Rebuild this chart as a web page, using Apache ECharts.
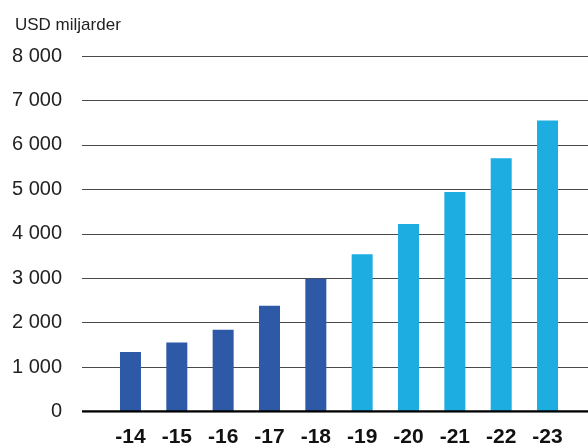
<!DOCTYPE html>
<html>
<head>
<meta charset="utf-8">
<script src="https://cdn.jsdelivr.net/npm/echarts@6/dist/echarts.min.js"></script>
<style>html,body{margin:0;padding:0;background:#fff;}#c{width:588px;height:445px;}</style>
</head>
<body>
<div id="c"></div>
<script>
const categories = ['-14','-15','-16','-17','-18','-19','-20','-21','-22','-23'];
const actualValues = [1340, 1550, 1840, 2380, 2990, null, null, null, null, null];
const forecastValues = [null, null, null, null, null, 3540, 4220, 4940, 5700, 6550];
const yTicks = [0, 1000, 2000, 3000, 4000, 5000, 6000, 7000, 8000];
const unitLabel = 'USD miljarder';

const font = '"Liberation Sans", Arial, Helvetica, sans-serif';
const chart = echarts.init(document.getElementById('c'), null, {renderer: 'canvas'});
const fmt = v => String(v).replace(/\B(?=(\d{3})+(?!\d))/g, ' ');

chart.setOption({
  animation: false,
  backgroundColor: '#fff',
  title: {
    text: unitLabel, left: 10, top: 12,
    textStyle: {fontFamily: font, fontSize: 17, fontWeight: 'normal', color: '#222'}
  },
  grid: [
    {left: 82, right: 0, top: 56, bottom: 33.5, containLabel: false, outerBoundsMode: 'none'},
    {left: 107.3, right: 17.3, top: 56, bottom: 33.5, containLabel: false, outerBoundsMode: 'none'}
  ],
  xAxis: [
    {gridIndex: 0, type: 'value', min: 0, max: 1, show: false},
    {
      gridIndex: 1, type: 'category', data: categories,
      axisLine: {show: false}, axisTick: {show: false},
      axisLabel: {margin: 15, fontFamily: font, fontSize: 21, fontWeight: 'bold', color: '#111'}
    }
  ],
  yAxis: [
    {
      gridIndex: 0, type: 'value', min: yTicks[0], max: yTicks[yTicks.length - 1], interval: 1000,
      axisLine: {show: false}, axisTick: {show: false},
      axisLabel: {margin: 20, fontFamily: font, fontSize: 20, color: '#222', formatter: fmt},
      splitLine: {lineStyle: {color: '#4a4a4a', width: 1}}
    },
    {gridIndex: 1, type: 'value', min: yTicks[0], max: yTicks[yTicks.length - 1], show: false}
  ],
  series: [
    {
      type: 'line', xAxisIndex: 0, yAxisIndex: 0, data: [[0, 0], [1, 0]],
      symbol: 'none', lineStyle: {color: '#000', width: 2.5}, z: 10, silent: true
    },
    {
      type: 'bar', xAxisIndex: 1, yAxisIndex: 1, data: actualValues, barWidth: 21,
      barGap: '-100%', itemStyle: {color: '#2E59A6'}
    },
    {
      type: 'bar', xAxisIndex: 1, yAxisIndex: 1, data: forecastValues, barWidth: 21,
      barGap: '-100%', itemStyle: {color: '#1DADE0'}
    }
  ]
});
</script>
</body>
</html>
